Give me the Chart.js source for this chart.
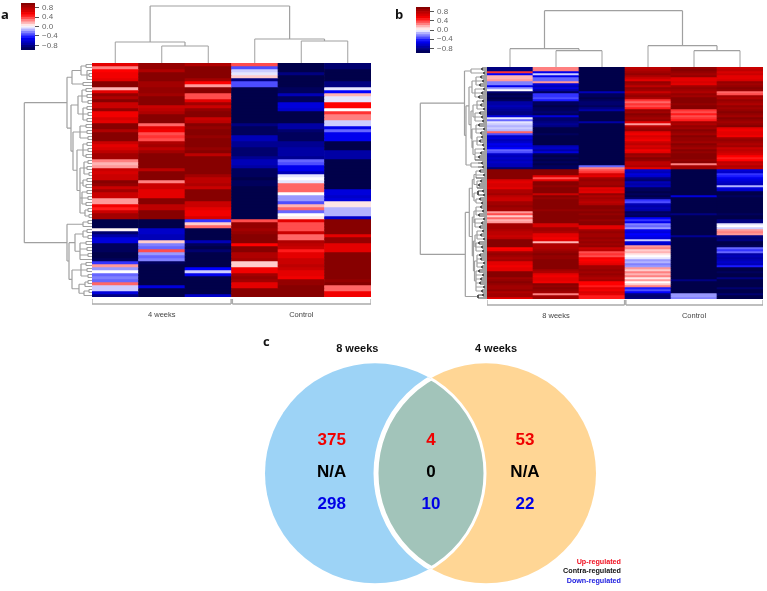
<!DOCTYPE html>
<html><head><meta charset="utf-8">
<script src="https://cdn.jsdelivr.net/npm/chart.js@4"></script>
<style>
html,body{margin:0;padding:0;background:#fff;width:767px;height:591px;overflow:hidden}
canvas{position:absolute;filter:blur(0.4px)}
.tag{position:absolute;font:700 13px "Open Sans",sans-serif;color:#111;line-height:14px;filter:blur(0.2px)}
</style></head><body>
<div class="tag" style="left:1px;top:7px">a</div>
<div class="tag" style="left:395px;top:7px">b</div>
<div class="tag" style="left:263px;top:334px">c</div>
<script>
// ---------- Heat map a: one array per sample column, one value per row
const a4w1=[.6,.25,.5,.55,.55,.6,.95,.95,.15,.6,
.9,.8,.95,.7,.7,.9,.55,.55,.65,.6,
.95,.95,.8,.95,.95,.95,.7,.6,.65,.75,
.85,.85,.25,.15,.2,.7,.65,.7,.7,.95,
.9,.7,.85,.7,.7,.2,.2,.55,.45,.7,
.85,.85,-1,-1,-1,.02,-.9,-.75,-.6,-.6,
-.95,-.95,-.95,-1,-1,-.95,-.4,.2,-.2,0,
-.3,-.25,-.3,.3,-.1,-.1,-.6,-.85];
const a4w2=[.9,.9,.8,.95,.95,.95,.85,.85,.9,.9,
.85,.95,.95,.95,.7,.75,.8,.95,.95,.95,
.3,.6,.55,.35,.4,.35,.8,.85,.75,.85,
.95,.95,.95,.95,.95,.75,.95,.95,.95,.25,
.7,.7,.6,.6,.6,.95,.95,.75,.75,.95,
.95,.95,-1,-1,-1,-.65,-.65,-.7,-.7,.1,
-.25,-.3,.35,-.2,-.3,-.25,-.95,-1,-1,-1,
-1,-1,-1,-1,-.6,-1,-1,-1];
const a4w3=[.8,.95,.95,.95,.95,.85,.5,.2,.95,.95,
.35,.35,.6,.85,.7,.9,.95,.95,.7,.75,
.95,.9,.95,.95,.9,.95,.95,.95,.9,.95,
.75,.95,.95,.95,.95,.95,.95,.85,.75,.75,
.8,.7,.95,.95,.95,.95,.7,.7,.6,.55,
.55,.65,-.4,.1,.3,-1,-1,-1,-1,-.7,
-.95,-1,-.9,-1,-1,-1,-1,-1,-.5,-.1,
-.55,-1,-1,-1,-1,-1,-1,-.65];
const aCtl1=[.35,-.35,-.1,-.05,.1,-.85,-.35,-.35,-1,-1,
-1,-1,-1,-1,-1,-1,-1,-1,-1,-1,
-.85,-.95,-.95,-.95,-.7,-.7,-.8,-.8,-.9,-.9,
-.9,-.8,-.7,-.7,-.75,-.95,-.95,-.95,-1,-.95,
-.95,-1,-1,-1,-1,-1,-1,-1,-1,-1,
-1,-1,.35,.9,.9,.85,.9,.95,.95,.95,
.5,.95,.95,.8,.8,.85,.1,.1,.55,.55,
.85,.9,.85,.6,.6,.95,.95,.95];
const aCtl2=[-1,-1,-1,-.85,-1,-1,-1,-1,-.95,-.95,
-.7,-.95,-.95,-.6,-.6,-.65,-1,-1,-1,-1,
-.75,-.75,-.9,-.95,-.95,-.95,-.8,-.8,-.75,-.75,
-.75,-.8,-.3,-.35,-.55,-.55,-.7,-.05,0,-.05,
.3,.3,.3,0,-.2,-.2,-.35,.15,.3,-.3,
0,.05,.6,.35,.35,.35,.7,.3,.3,.8,
.75,.7,.45,.6,.6,.7,.7,.75,.7,.6,
.6,.55,.9,.9,.95,.95,.95,.95];
const aCtl3=[-.9,-.9,-1,-1,-1,-1,-.85,-.85,-.05,-.5,
.15,-.05,-.05,.5,.5,0,.4,.25,.25,-.1,
-.1,-.55,-.3,-.55,-.55,-.55,-1,-1,-1,-.75,
-.75,-.75,-1,-1,-1,-1,-1,-1,-1,-1,
-1,-1,-.6,-.6,-.65,-.6,.05,.05,-.15,-.15,
-.15,-.65,.95,.95,.95,.95,.95,.6,.9,.9,
.6,.6,.6,.95,.95,.95,.95,.95,.95,.95,
.95,.95,.9,.95,.3,.3,.55,.55];
// ---------- Heat map b
const b8w1=[-.85,-.85,.4,-.5,.15,.15,.2,-.25,-.25,-.55,
-.2,0,-.9,-1,-.95,-1,-.95,-.75,-.75,-.7,
-.75,-.8,-.85,-.85,-.6,-.05,-.3,-.05,-.1,-.15,
-.1,-.15,.3,-.35,-.65,-.6,-.7,-.65,-.55,-.6,
-.5,-.3,-.35,-.65,-.7,-.65,-.7,-.65,-.7,-.7,
-.9,.95,.95,.95,.95,.95,.65,.6,.65,.65,
.6,.8,.8,.85,.75,.7,.7,.85,.85,.9,
.85,.85,.2,.35,.1,.3,.15,.2,.85,.85,
.85,.8,.75,.75,.7,.75,.95,.95,.95,.95,
.5,.55,.85,.9,.85,.8,.85,.6,.6,.55,
.6,.6,.95,.95,.95,.85,.9,.95,.9,.85,
.85,.9,.8,.85,.85,.6];
const b8w2=[.25,.25,-.55,-.1,-.55,-.3,-.3,.2,-.6,-.7,
-.6,-.75,-.95,-.4,-.4,-.35,-.45,-.95,-.95,-1,
-.95,-.95,-.9,-.95,-.6,-.9,-.9,-.85,-.8,-.85,
-1,-1,-1,-.95,-1,-1,-1,-1,-1,-.7,
-.65,-.75,-.6,-.95,-1,-.95,-1,-.95,-1,-.95,
-.95,.95,.95,.95,.6,.35,.6,.95,.95,.9,
.95,.95,.95,.7,.95,.9,.95,.95,.95,.95,
.95,.9,.95,.95,.95,.95,.95,.95,.65,.65,
.85,.85,.8,.6,.6,.55,.6,.15,.8,.8,
.8,.85,.9,.95,.9,.9,.95,.95,.95,.95,
.95,.85,.8,.6,.55,.6,.6,.55,.95,.9,
.95,.9,.85,.25,.85,.85];
const b8w3=[-1,-1,-1,-1,-1,-1,-1,-1,-1,-1,
-1,-1,-.7,-.95,-.95,-1,-.95,-.9,-.9,-.95,
-.85,-.75,-1,-1,-1,-1,-1,-.75,-1,-1,
-1,-1,-1,-1,-1,-1,-1,-1,-1,-1,
-1,-1,-1,-1,-1,-1,-1,-1,-1,-.3,
.25,.35,.4,.65,.6,.85,.9,.85,.85,.9,
.6,.65,.6,.9,.8,.85,.8,.75,.8,.95,
.95,.9,.95,.9,.95,.95,.9,.95,.95,.6,
.6,.85,.9,.85,.85,.9,.85,.9,.85,.9,
.7,.75,.35,.4,.35,.55,.5,.55,.6,.85,
.85,.9,.85,.9,.85,.8,.85,.5,.5,.45,
.6,.55,.65,.6,.45,.45];
const bCtl1=[.75,.8,.85,.9,.8,.7,.6,.9,.85,.75,
.9,.85,.7,.85,.9,.8,.4,.3,.4,.35,
.45,.9,.85,.95,.9,.85,.9,.6,.2,.75,
.85,.9,.6,.55,.65,.6,.55,.7,.75,.65,
.7,.55,.6,.9,.85,.95,.9,.75,.75,.8,
.6,-.65,-.7,-.6,-.65,-.85,-.9,-.7,-.75,-.7,
-.95,-.95,-1,-.95,-1,-.9,-.4,-.35,-.7,-.75,
-.7,-.75,-.95,-.9,-.95,-.5,-.4,-.55,-.25,-.3,
-.2,-.55,-.6,-.5,-.55,-.6,-.1,-.6,-.65,.2,
.25,.1,.15,.05,0,-.05,-.2,-.15,-.25,-.2,
.2,.1,.25,.15,.25,.05,.2,0,.1,.25,
-.45,-.35,-.5,-.85,-.9,-.85];
const bCtl2=[.9,.95,.9,.85,.9,.6,.6,.65,.6,.85,
.9,.85,.8,.9,.85,.95,.95,.95,.9,.95,
.95,.4,.35,.45,.35,.4,.45,.85,.8,.9,
.85,.95,.9,.85,.95,.9,.9,.85,.95,.9,
.85,.95,.9,.95,.95,.95,.9,.95,.25,.85,
.85,-1,-1,-1,-1,-1,-1,-1,-1,-1,
-1,-1,-1,-1,-.6,-1,-1,-1,-1,-1,
-1,-1,-1,-.85,-1,-1,-1,-1,-1,-1,
-1,-1,-1,-1,-.8,-1,-1,-1,-1,-1,
-1,-1,-1,-1,-1,-1,-1,-1,-1,-1,
-1,-1,-1,-1,-1,-1,-.85,-1,-1,-1,
-1,-1,-1,-.2,-.2,-.25];
const bCtl3=[.7,.75,.65,.7,.6,.6,.65,.9,.85,.9,
.95,.9,.3,.35,.85,.8,.9,.85,.8,.9,
.85,.9,.95,.9,.85,.95,.9,.85,.9,.95,
.6,.55,.6,.6,.55,.85,.9,.85,.8,.85,
.7,.75,.7,.65,.5,.45,.5,.75,.7,.8,
.75,-.6,-.65,-.4,-.45,-.55,-.6,-.65,-.7,-.15,
-.6,-.65,-1,-1,-.95,-1,-1,-1,-1,-1,
-1,-1,-1,-.95,-1,-1,-.85,-.85,-.05,0,
-.1,.2,.25,.2,-.85,-.9,-.85,-1,-1,-.95,
-.3,-.4,-.3,-.75,-.7,-.75,-.7,-.65,-.7,-.45,
-1,-1,-.95,-1,-1,-.85,-1,-1,-1,-1,
-.9,-1,-1,-.9,-1,-1];
// ---------- Colour key
const keyLevels=[-1,-.9,-.8,-.7,-.6,-.5,-.4,-.3,-.2,-.1,0,.1,.2,.3,.4,.5,.6,.7,.8,.9];
const keyTicks=[-.8,-.4,0,.4,.8];
// ---------- Group labels
const aGroups=['4 weeks','Control'];
const bGroups=['8 weeks','Control'];
// ---------- Dendrograms: [height, child, child, ...]; a number child is a leaf position
const aTopTree=[57,[21,0,[17,1,2]],[24,3,[22,4,5]]];
const bTopTree=[56.3,[18.3,0,[16.3,1,2]],[21.3,3,[16.3,4,5]]];
// merge heights of neighbouring leaf pairs in the dense side dendrogram of panel b
const bPairDepth=[5,3,6,4,7,3,5,8,4,6,3,7,5,4,8,3,6,5,7,4,
3,6,8,5,4,7,3,5,6,8,4,3,7,5,6,4,8,3,5,7,
4,6,3,8,5,4,7,6,3,5,8,4,6,7,3,5,4,6];
const comb=(h,a,b)=>{
  const n=[h];
  for(let i=a;i<=b;i+=2){ n.push(i<b?[bPairDepth[i>>1],i,i+1]:i); }
  return n;
};
const aSideTree=[67.7,
 [25,
  [20,[11,[6,0,1],[5,2,[3,3,4],5]],[9,6,7]],
  [21,
   [14,[10,[6,8,9],[5,10,11],[4,12,13]],[9,[5,14,15],[4,16,17],[5,18,19]]],
   [19,[12,[6,20,21],[5,22,23],[4,24,25]],
    [15,[9,[5,26,27],[4,28,29],[6,30,31]],
     [12,[8,[4,32,33],[5,34,35],[3,36,37]],[9,[5,38,39],[6,40,41]],[10,[5,42,43],[4,44,45],[6,46,47]],[7,[4,48,49],[3,50,51]]]]]
  ]
 ],
 [25,
  [9,[4,52,53],54],
  [23,
   [17,[9,[5,55,56],[4,57,58]],[12,[6,59,60],[5,61,62],[4,63,64],65]],
   [20,[11,[6,66,67],[5,68,69],[4,70,71]],[13,[7,[4,72,73],74],[8,[3,75,76],77]]]
  ]
 ]
];
const bSideTree=[66.7,
 [22.5,
  [16,comb(11,0,1),comb(10,2,3)],
  [21,
   [18,[15,comb(11,4,9),comb(12,10,15)],
    [16,[14,comb(10,16,21),comb(12,22,27)],
     [15,comb(11,28,33),[14,comb(10,34,39),comb(12,40,46)]]]],
   [16,comb(9,47,48),comb(9,49,50)]
  ]
 ],
 [21.7,
  [17.7,
   [14.7,[13,comb(11,51,55),comb(10,56,60)],[13,comb(9,61,64),comb(11,65,68)]],
   [14.7,[13,comb(11,69,74),comb(12,75,80)],
    [13.5,[12,comb(10,81,86),comb(11,87,92)],[12.5,comb(10,93,100),comb(11,101,112)]]]
  ],
  comb(9,113,115)
 ]
];
// ---------- Venn
const vennSets=['8 weeks','4 weeks'];
const vennCentres=[125,236];
const vennRegionX=[81.7,181,275];
const vennUp=['375','4','53'];
const vennContra=['N/A','0','N/A'];
const vennDown=['298','10','22'];
const vennKey=['Up-regulated','Contra-regulated','Down-regulated'];

// ---------- Drawing helpers
const stops=[[-1,[0,0,74]],[-.5,[0,0,255]],[0,[255,255,255]],[.5,[255,0,0]],[1,[122,0,0]]];
function heat(v){
  for(let i=1;i<stops.length;i++){
    if(v<=stops[i][0]){
      const [a,ca]=stops[i-1],[b,cb]=stops[i],t=(v-a)/(b-a);
      return `rgb(${ca.map((c,k)=>Math.round(c+(cb[k]-c)*t)).join(',')})`;
    }
  }
  return 'rgb(122,0,0)';
}
function canvas(l,t,w,h){
  const c=document.createElement('canvas');
  c.width=w;c.height=h;
  c.style.cssText=`left:${l}px;top:${t}px;width:${w}px;height:${h}px`;
  document.body.appendChild(c);
  return c.getContext('2d');
}
const base={responsive:false,animation:false,events:[],layout:{padding:0,autoPadding:false},
  plugins:{legend:{display:false},tooltip:{enabled:false},title:{display:false}}};
const hidden=(min,max,extra={})=>Object.assign({type:'linear',display:false,min,max},extra);

function heatChart(l,t,w,h,cols,names){
  const n=cols[0].length;
  const datasets=[];
  for(let r=0;r<n;r++){
    datasets.push({data:cols.map(()=>1),backgroundColor:cols.map(c=>heat(c[r])),
      borderWidth:0,categoryPercentage:1,barPercentage:1,stack:'s'});
  }
  new Chart(canvas(l,t,w,h),{type:'bar',data:{labels:names,datasets},
    options:{...base,scales:{x:{display:false,stacked:true},y:hidden(0,n,{reverse:true,stacked:true})}}});
}
// flatten a tree into line points with NaN gaps; returns position of the node
function flatten(node,emit){
  if(typeof node==='number')return {p:node+.5,h:0,leaf:true};
  const h=node[0];
  const kids=node.slice(1).map(k=>flatten(k,emit));
  const first=kids[0].p,last=kids[kids.length-1].p;
  emit(first,h,last,h,false);
  kids.forEach(k=>emit(k.p,k.h,k.p,h,k.leaf));
  return {p:(first+last)/2,h};
}
function dendro(l,t,w,h,tree,span,side,opts={}){
  const inner=[],leaf=[];
  const dark=opts.darkBelow||0;
  flatten(tree,(p1,h1,p2,h2,isLeaf)=>{
    const arr=(isLeaf||Math.max(h1,h2)<=dark)?leaf:inner;
    if(side){arr.push({x:h1,y:p1},{x:h2,y:p2},{x:NaN,y:NaN});}
    else{arr.push({x:p1,y:h1},{x:p2,y:h2},{x:NaN,y:NaN});}
  });
  const mk=(data,color,width)=>({data,showLine:true,pointRadius:0,borderColor:color,borderWidth:width,clip:false,spanGaps:false,tension:0});
  new Chart(canvas(l,t,w,h),{type:'scatter',data:{datasets:[
      mk(leaf,opts.leaf||'#a0a0a0',opts.leafW||1),mk(inner,'#a0a0a0',1.2)]},
    options:{...base,scales:side?
      {x:hidden(0,w,{reverse:true}),y:hidden(0,span,{reverse:true})}:
      {x:hidden(0,span),y:hidden(0,h)}}});
}
function key(l,t,h){
  const datasets=keyLevels.map(v=>({data:[[v,+(v+.1).toFixed(1)]],backgroundColor:heat(v+.05),
    borderWidth:0,categoryPercentage:1,barPercentage:1}));
  new Chart(canvas(l,t,52,h),{type:'bar',data:{labels:['key'],datasets},
    options:{...base,
      datasets:{bar:{grouped:false}},
      scales:{x:{display:false},y:{type:'linear',position:'right',min:-1,max:1,
        afterFit(s){s.width=38;s.paddingTop=0;s.paddingBottom=0;},
        afterBuildTicks(s){s.ticks=keyTicks.map(value=>({value}))},
        grid:{drawOnChartArea:false,drawTicks:true,tickLength:4,color:'#555',lineWidth:1},
        border:{display:false},
        ticks:{padding:3,color:'#666',font:{family:'"Liberation Sans"',size:8},autoSkip:false,
          callback:v=>v===0?'0.0':(v<0?'\u2212':'')+Math.abs(v).toFixed(1)}}}}});
}
function bracket(l,t,w,groups){
  const line=[[0,1,0,0],[0,0,2.99,0],[2.99,0,2.99,1],[3.02,1,3.02,0],[3.02,0,6,0],[6,0,6,1]];
  const data=[];
  line.forEach(s=>data.push({x:s[0],y:s[1]},{x:s[2],y:s[3]},{x:NaN,y:NaN}));
  new Chart(canvas(l,t,w,24),{type:'scatter',data:{datasets:[{data,showLine:true,pointRadius:0,
      borderColor:'#aaa',borderWidth:1.3,clip:false,spanGaps:false}]},
    options:{...base,scales:{
      x:{type:'linear',min:0,max:6,position:'bottom',
        afterFit(s){s.height=19},
        afterBuildTicks(s){s.ticks=[{value:1.5},{value:4.5}]},
        grid:{display:false,drawTicks:false},border:{display:false},
        ticks:{autoSkip:false,maxRotation:0,padding:6,color:'#444',font:{family:'"Liberation Sans"',size:7.5},
          callback:v=>groups[v<3?0:1]}},
      y:hidden(0,1)}}});
}

// ---------- Panel a
key(21,3,47);
dendro(92,0,279,63,aTopTree,6,false);
dendro(20,63,72,234,aSideTree,78,true);
heatChart(92,63,279,234,[a4w1,a4w2,a4w3,aCtl1,aCtl2,aCtl3],['w1','w2','w3','c1','c2','c3']);
bracket(92,299,279,aGroups);
// ---------- Panel b
key(416,7,46);
dendro(487,0,276,67,bTopTree,6,false);
dendro(417,67,70,232,bSideTree,116,true,{leaf:'#444',leafW:1,darkBelow:9});
heatChart(487,67,276,232,[b8w1,b8w2,b8w3,bCtl1,bCtl2,bCtl3],['w1','w2','w3','c1','c2','c3']);
bracket(487,300,276,bGroups);
// ---------- Panel c
const vennPlugin={id:'venn',afterDatasetsDraw(chart){
  const {ctx,scales:{x,y}}=chart;
  const A=chart.getDatasetMeta(0).data[0],B=chart.getDatasetMeta(1).data[0];
  const R=A.options.radius;
  const circle=e=>{ctx.beginPath();ctx.arc(e.x,e.y,R,0,Math.PI*2);};
  ctx.save();circle(A);ctx.clip();circle(B);ctx.fillStyle='#a2c4ba';ctx.fill();
  ctx.strokeStyle='#fff';ctx.lineWidth=5;circle(B);ctx.stroke();ctx.restore();
  ctx.save();circle(B);ctx.clip();ctx.strokeStyle='#fff';ctx.lineWidth=3;circle(A);ctx.stroke();ctx.restore();
  ctx.save();ctx.textAlign='center';ctx.textBaseline='middle';
  ctx.font='bold 11px "Liberation Sans"';ctx.fillStyle='#111';
  ctx.fillText(vennSets[0],x.getPixelForValue(107.3),y.getPixelForValue(24));
  ctx.fillText(vennSets[1],x.getPixelForValue(246),y.getPixelForValue(24));
  ctx.font='bold 17px "Liberation Sans"';
  vennRegionX.forEach((vx,i)=>{
    const px=x.getPixelForValue(vx);
    ctx.fillStyle='#f00000';ctx.fillText(vennUp[i],px,y.getPixelForValue(115));
    ctx.fillStyle='#000';ctx.fillText(vennContra[i],px,y.getPixelForValue(147));
    ctx.fillStyle='#0000e6';ctx.fillText(vennDown[i],px,y.getPixelForValue(179));
  });
  ctx.textAlign='right';ctx.font='bold 7.2px "Liberation Sans"';
  ['#f01020','#111','#2020e0'].forEach((c,i)=>{
    ctx.fillStyle=c;ctx.fillText(vennKey[i],x.getPixelForValue(371),y.getPixelForValue(237+i*9.4));
  });
  ctx.restore();
}};
new Chart(canvas(250,325,400,266),{type:'bubble',plugins:[vennPlugin],data:{datasets:[
  {data:[{x:vennCentres[0],y:148.3,r:110}],backgroundColor:'#9dd3f6',borderWidth:0},
  {data:[{x:vennCentres[1],y:148.3,r:110}],backgroundColor:'#ffd695',borderWidth:0}]},
  options:{...base,scales:{x:hidden(0,400),y:hidden(0,266,{reverse:true})}}});
</script>
</body></html>
